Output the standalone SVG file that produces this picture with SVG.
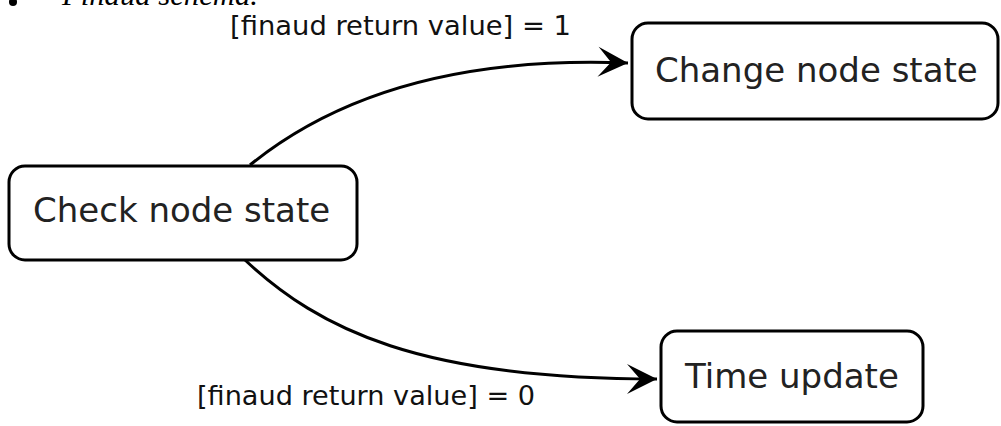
<svg xmlns="http://www.w3.org/2000/svg" width="1001" height="426" viewBox="0 0 1001 426">
<style>
.box{fill:#fff;stroke:#000;stroke-width:3}
.nt{font-family:"DejaVu Sans",sans-serif;font-size:34px;fill:#222}
.lb{font-family:"DejaVu Sans",sans-serif;font-size:27px;fill:#111}
.edge{fill:none;stroke:#000;stroke-width:3}
</style>
<defs>
<marker id="arr" markerUnits="userSpaceOnUse" markerWidth="34" markerHeight="34" viewBox="-32 -16 34 32" refX="0" refY="0" orient="auto">
<path d="M0,0 L-30,-15 L-17,0 L-30,15 Z" fill="#000"/>
</marker>
</defs>
<rect width="1001" height="426" fill="#fff"/>
<g id="caption">
<circle cx="13" cy="2" r="4" fill="#000"/>
<text x="62" y="5" font-family="Liberation Serif, serif" font-style="italic" font-size="30" textLength="196" lengthAdjust="spacingAndGlyphs">Finaud schema.</text>
</g>
<g id="connectors">
<path class="edge" d="M250,165 C330,100 450,56 628,63" marker-end="url(#arr)"/>
<path class="edge" d="M245,260 C320,330 420,379 657,379" marker-end="url(#arr)"/>
<text class="lb" x="230" y="35" textLength="341" lengthAdjust="spacingAndGlyphs">[finaud return value] = 1</text>
<text class="lb" x="197" y="405" textLength="338" lengthAdjust="spacingAndGlyphs">[finaud return value] = 0</text>
</g>
<g id="check">
<rect class="box" x="9" y="166" width="348" height="94" rx="16"/>
<text class="nt" x="33" y="222">Check node state</text>
</g>
<g id="change">
<rect class="box" x="632" y="23" width="366" height="96" rx="16"/>
<text class="nt" x="655" y="82">Change node state</text>
</g>
<g id="time">
<rect class="box" x="661" y="331" width="262" height="91" rx="16"/>
<text class="nt" x="685" y="388">Time update</text>
</g>
</svg>
